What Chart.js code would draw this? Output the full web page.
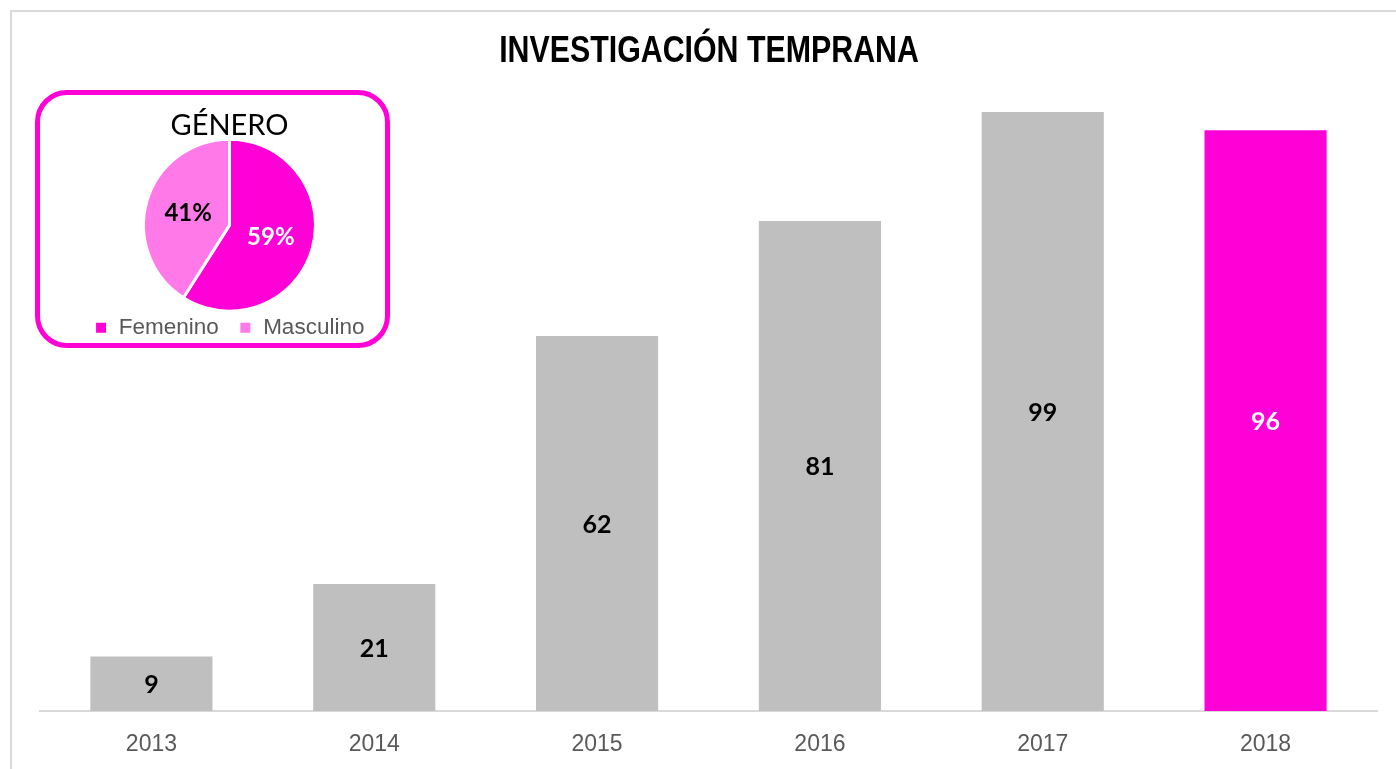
<!DOCTYPE html>
<html lang="es">
<head>
<meta charset="utf-8">
<title>Investigación temprana</title>
<script src="https://cdn.jsdelivr.net/npm/chart.js@4.4.0/dist/chart.umd.min.js"></script>
<style>
  html, body { margin: 0; padding: 0; background: #fff; overflow: hidden; }
  #wrap { position: relative; width: 1396px; height: 769px; }
  #frame { position: absolute; left: 10px; top: 10px; width: 1450px; height: 800px;
           border-left: 2px solid #d9d9d9; border-top: 2px solid #d9d9d9; }
  #barChart { position: absolute; left: 0; top: 0; }
  #pieBox { position: absolute; left: 35px; top: 90px; width: 345px; height: 248px;
            border: 5px solid #ff00d7; border-radius: 32px; background: #fff; }
  #pieChart { position: absolute; left: 57px; top: 95px; }
</style>
</head>
<body>
<div id="wrap">
  <div id="frame"></div>
  <canvas id="barChart" width="1396" height="769"></canvas>
  <div id="pieBox"></div>
  <canvas id="pieChart" width="345" height="254"></canvas>
</div>
<script>
// data
const years = ['2013', '2014', '2015', '2016', '2017', '2018'];
const casos = [9, 21, 62, 81, 99, 96];
const genero = ['Femenino', 'Masculino'];
const generoPct = [59, 41];
const chartTitle = 'INVESTIGACIÓN TEMPRANA';

// styles
const SANS = "'Liberation Sans', Arial, sans-serif";
const GRAY = '#bfbfbf';
const PINK = '#ff00d7';
const LIGHT_PINK = '#ff7ae8';
const barColors = years.map((y, i) => i === years.length - 1 ? PINK : GRAY);
const barLabelColors = years.map((y, i) => i === years.length - 1 ? '#fff' : '#000');
const pieColors = [PINK, LIGHT_PINK];
const pieLabelColors = ['#fff', '#000'];

// title in a narrow face (Arial Narrow is not installed, so squeeze Liberation Sans)
const narrowTitle = {
  id: 'narrowTitle',
  afterDraw(chart) {
    const ctx = chart.ctx;
    ctx.save();
    ctx.translate(709, 52);
    ctx.scale(0.82, 1);
    ctx.font = "bold 37px 'Liberation Sans'";
    ctx.fillStyle = '#000';
    ctx.textAlign = 'center';
    ctx.textBaseline = 'middle';
    ctx.fillText(chartTitle, 0, 0);
    ctx.restore();
  }
};

// numbers in the middle of each bar
const barValueLabels = {
  id: 'barValueLabels',
  afterDatasetsDraw(chart) {
    const ctx = chart.ctx;
    const meta = chart.getDatasetMeta(0);
    ctx.save();
    ctx.font = 'bold 25px Lato';
    ctx.textAlign = 'center';
    ctx.textBaseline = 'middle';
    meta.data.forEach((bar, i) => {
      const p = bar.getProps(['x', 'y', 'base'], true);
      ctx.fillStyle = barLabelColors[i];
      ctx.fillText(String(casos[i]), p.x, (p.y + p.base) / 2 + 1);
    });
    ctx.restore();
  }
};

// percentages on the slices
const pieValueLabels = {
  id: 'pieValueLabels',
  afterDatasetsDraw(chart) {
    const ctx = chart.ctx;
    const meta = chart.getDatasetMeta(0);
    ctx.save();
    ctx.font = 'bold 24px Lato';
    ctx.textAlign = 'center';
    ctx.textBaseline = 'middle';
    meta.data.forEach((arc, i) => {
      const p = arc.tooltipPosition(true);
      ctx.fillStyle = pieLabelColors[i];
      ctx.fillText(generoPct[i] + '%', p.x, p.y);
    });
    ctx.restore();
  }
};

new Chart(document.getElementById('barChart'), {
  type: 'bar',
  data: {
    labels: years,
    datasets: [{
      data: casos,
      backgroundColor: barColors,
      categoryPercentage: 0.548,
      barPercentage: 1
    }]
  },
  options: {
    responsive: false,
    animation: false,
    layout: { padding: { left: 40, right: 19, top: 106, bottom: 0 } },
    plugins: {
      legend: { display: false },
      tooltip: { enabled: false },
      title: { display: false }
    },
    scales: {
      x: {
        grid: { display: false, drawTicks: false },
        border: { display: true, color: '#d9d9d9', width: 2 },
        ticks: { color: '#595959', font: { family: SANS, size: 23 }, padding: 20 },
        afterFit: (scale) => { scale.height = 58; }
      },
      y: { display: false, min: 0, max: 100 }
    }
  },
  plugins: [barValueLabels, narrowTitle]
});

new Chart(document.getElementById('pieChart'), {
  type: 'pie',
  data: {
    labels: genero,
    datasets: [{
      data: generoPct,
      backgroundColor: pieColors,
      borderColor: '#fff',
      borderWidth: 3,
      radius: 86
    }]
  },
  options: {
    responsive: false,
    animation: false,
    plugins: {
      tooltip: { enabled: false },
      title: {
        display: true,
        text: 'GÉNERO',
        color: '#000',
        font: { family: 'Lato', size: 29, weight: 'normal', lineHeight: 1.2 },
        padding: { top: 13, bottom: 11 }
      },
      legend: {
        position: 'bottom',
        labels: {
          color: '#595959',
          font: { family: SANS, size: 22.5 },
          boxWidth: 13,
          boxHeight: 13,
          padding: 20
        }
      }
    }
  },
  plugins: [pieValueLabels]
});
</script>
</body>
</html>
